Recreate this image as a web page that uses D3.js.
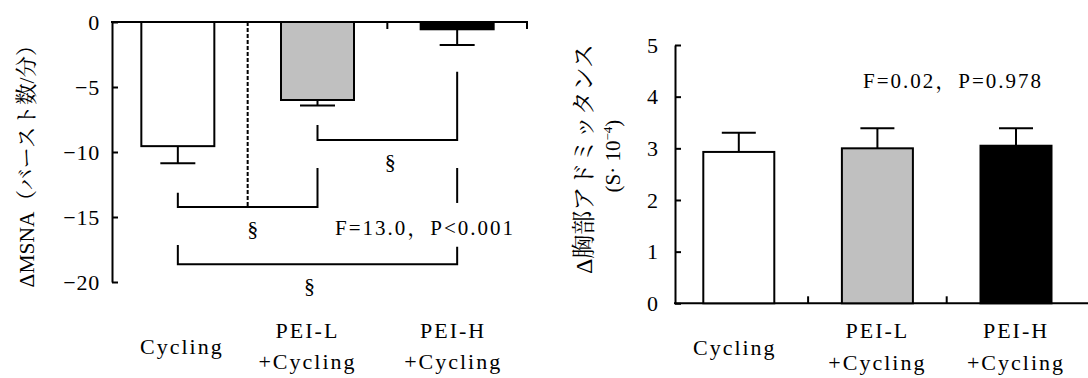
<!DOCTYPE html>
<html><head><meta charset="utf-8">
<script src="https://cdn.jsdelivr.net/npm/d3@7"></script>
<style>body{margin:0;background:#fff}svg{display:block}</style>
</head><body><svg id="c" width="1088" height="378"></svg>
<script>
// ---- data ----
const categories = ["Cycling", "PEI-L+Cycling", "PEI-H+Cycling"];
const categoryLines = [["Cycling"], ["PEI-L", "+Cycling"], ["PEI-H", "+Cycling"]];
const barColors = ["#ffffff", "#c0c0c0", "#000000"];
const msnaMean = [-9.55, -6.0, -0.56];
const msnaSE = [1.32, 0.42, 1.21];
const tciMean = [2.93, 3.00, 3.05];
const tciSE = [0.37, 0.39, 0.34];
const msnaTicks = [0, -5, -10, -15, -20];
const tciTicks = [0, 1, 2, 3, 4, 5];
const msnaBrackets = [
  {a: 1, b: 2, y: -9.08, ya: -7.92, yb: -3.82},
  {a: 0, b: 1, y: -14.23, ya: -13.13, yb: -11.23},
  {a: 0, b: 2, y: -18.64, ya: -17.15, yb: -17.28}
];
const msnaExtraSeg = {c: 2, y1: -11.23, y2: -13.92};
const msnaStat = "F=13.0，P<0.001";
const tciStat = "F=0.02，P=0.978";
const msnaYLabel = "ΔMSNA（バースト数/分）";
const tciYLabel1 = "Δ胸部アドミッタンス";

// ---- layout ----
const svg = d3.select("#c");
const serif = "'Liberation Serif','Times New Roman',serif";
const jp = "'Liberation Serif','Noto Serif CJK JP','Noto Sans CJK JP',serif";
const SW = 2;

// ===== Left chart =====
const yL = d3.scaleLinear().domain([-20, 0]).range([282, 22]);
const xL = d3.scaleBand().domain(categories).range([108, 527]);
const bwL = 73;
const axL = svg.append("g").attr("transform", "translate(112,0)")
  .call(d3.axisLeft(yL).tickValues(msnaTicks).tickSizeInner(-6).tickSizeOuter(0).tickPadding(12).tickFormat(d3.format("d")));
axL.selectAll("path,line").attr("stroke", "#000").attr("stroke-width", SW);
axL.selectAll("text").attr("font-family", serif).attr("font-size", 22).attr("fill", "#000").attr("letter-spacing", 0.8);

svg.append("line").attr("x1", 111).attr("x2", 528).attr("y1", yL(0)).attr("y2", yL(0))
  .attr("stroke", "#000").attr("stroke-width", SW);
[2, 3].forEach(i => {
  const x = xL.range()[0] + xL.step() * i;
  svg.append("line").attr("x1", x).attr("x2", x).attr("y1", yL(0)).attr("y2", yL(0) + 7)
    .attr("stroke", "#000").attr("stroke-width", SW);
});
const xDiv = xL.range()[0] + xL.step();
svg.append("line").attr("x1", xDiv).attr("x2", xDiv).attr("y1", yL(0)).attr("y2", yL(msnaBrackets[1].y))
  .attr("stroke", "#000").attr("stroke-width", 2).attr("stroke-dasharray", "4,2");

const cxL = c => xL(c) + xL.bandwidth() / 2;
svg.append("g").selectAll("rect").data(categories).join("rect")
  .attr("x", c => cxL(c) - bwL / 2).attr("width", bwL)
  .attr("y", () => yL(0))
  .attr("height", (c, i) => yL(msnaMean[i]) - yL(0))
  .attr("fill", (c, i) => barColors[i]).attr("stroke", "#000").attr("stroke-width", SW);
categories.forEach((c, i) => {
  const x = cxL(c);
  const lo = yL(msnaMean[i] - msnaSE[i]);
  svg.append("line").attr("x1", x).attr("x2", x).attr("y1", yL(msnaMean[i])).attr("y2", lo)
    .attr("stroke", "#000").attr("stroke-width", SW);
  svg.append("line").attr("x1", x - 17.5).attr("x2", x + 17.5).attr("y1", lo).attr("y2", lo)
    .attr("stroke", "#000").attr("stroke-width", SW);
});
const sectOff = [3, 5, -8];
msnaBrackets.forEach((b, k) => {
  const xa = cxL(categories[b.a]), xb = cxL(categories[b.b]);
  svg.append("path")
    .attr("d", `M${xa},${yL(b.ya)}V${yL(b.y)}H${xb}V${yL(b.yb)}`)
    .attr("fill", "none").attr("stroke", "#000").attr("stroke-width", SW);
  svg.append("text").attr("x", (xa + xb) / 2 + sectOff[k]).attr("y", yL(b.y) + 29)
    .attr("text-anchor", "middle").attr("font-family", serif).attr("font-size", 22).text("§");
});
{
  const x = cxL(categories[msnaExtraSeg.c]);
  svg.append("line").attr("x1", x).attr("x2", x).attr("y1", yL(msnaExtraSeg.y1)).attr("y2", yL(msnaExtraSeg.y2))
    .attr("stroke", "#000").attr("stroke-width", SW);
}
svg.append("text").attr("x", 335).attr("y", 235).attr("font-family", jp).attr("font-size", 21)
  .attr("letter-spacing", 2).text(msnaStat);
svg.append("text").attr("transform", "translate(34,161) rotate(-90)").attr("text-anchor", "middle")
  .attr("font-family", jp).attr("font-size", 21.5).text(msnaYLabel);

const lblOffL = [4, -10, -4];
function catLabels(cx, offs, ys) {
  categories.forEach((c, i) => {
    const lines = categoryLines[i];
    const x = cx(c) + offs[i];
    const yy = lines.length === 1 ? [ys[0]] : [ys[1], ys[2]];
    lines.forEach((s, j) => {
      svg.append("text").attr("x", x).attr("y", yy[j]).attr("text-anchor", "middle")
        .attr("font-family", serif).attr("font-size", 22).attr("letter-spacing", 2).text(s);
    });
  });
}
catLabels(cxL, lblOffL, [354, 338, 369]);

// ===== Right chart =====
const yR = d3.scaleLinear().domain([0, 5]).range([303.3, 45]);
const xR = d3.scaleBand().domain(categories).range([669.5, 1085.3]);
const bwR = 71;
const axR = svg.append("g").attr("transform", "translate(675,0)")
  .call(d3.axisLeft(yR).tickValues(tciTicks).tickSizeInner(-6).tickSizeOuter(0).tickPadding(17).tickFormat(d3.format("d")));
axR.selectAll("path,line").attr("stroke", "#000").attr("stroke-width", SW);
axR.selectAll("text").attr("font-family", serif).attr("font-size", 22).attr("fill", "#000");
svg.append("line").attr("x1", 674).attr("x2", 1088).attr("y1", yR(0)).attr("y2", yR(0))
  .attr("stroke", "#000").attr("stroke-width", SW);
[1, 2].forEach(i => {
  const x = xR.range()[0] + xR.step() * i;
  svg.append("line").attr("x1", x).attr("x2", x).attr("y1", yR(0)).attr("y2", yR(0) - 7)
    .attr("stroke", "#000").attr("stroke-width", SW);
});
const cxR = c => xR(c) + xR.bandwidth() / 2;
categories.forEach((c, i) => {
  const x = cxR(c);
  const top = yR(tciMean[i] + tciSE[i]);
  svg.append("line").attr("x1", x).attr("x2", x).attr("y1", yR(tciMean[i])).attr("y2", top)
    .attr("stroke", "#000").attr("stroke-width", SW);
  svg.append("line").attr("x1", x - 17).attr("x2", x + 17).attr("y1", top).attr("y2", top)
    .attr("stroke", "#000").attr("stroke-width", SW);
});
svg.append("g").selectAll("rect").data(categories).join("rect")
  .attr("x", c => cxR(c) - bwR / 2).attr("width", bwR)
  .attr("y", (c, i) => yR(tciMean[i]))
  .attr("height", (c, i) => yR(0) - yR(tciMean[i]))
  .attr("fill", (c, i) => barColors[i]).attr("stroke", "#000").attr("stroke-width", SW);
svg.append("text").attr("x", 863).attr("y", 88).attr("font-family", jp).attr("font-size", 21)
  .attr("letter-spacing", 2).text(tciStat);
svg.append("text").attr("transform", "translate(592,159) rotate(-90)").attr("text-anchor", "middle")
  .attr("font-family", jp).attr("font-size", 24).text(tciYLabel1);
{
  const t = svg.append("text").attr("transform", "translate(620,156) rotate(-90)").attr("text-anchor", "middle")
    .attr("font-family", serif).attr("font-size", 21);
  t.append("tspan").text("(S· 10");
  t.append("tspan").attr("font-size", 13).attr("dy", -8).text("−4");
  t.append("tspan").attr("dy", 8).text(")");
}
catLabels(cxR, [-4, 0, 0], [355, 338, 370]);
</script></body></html>
